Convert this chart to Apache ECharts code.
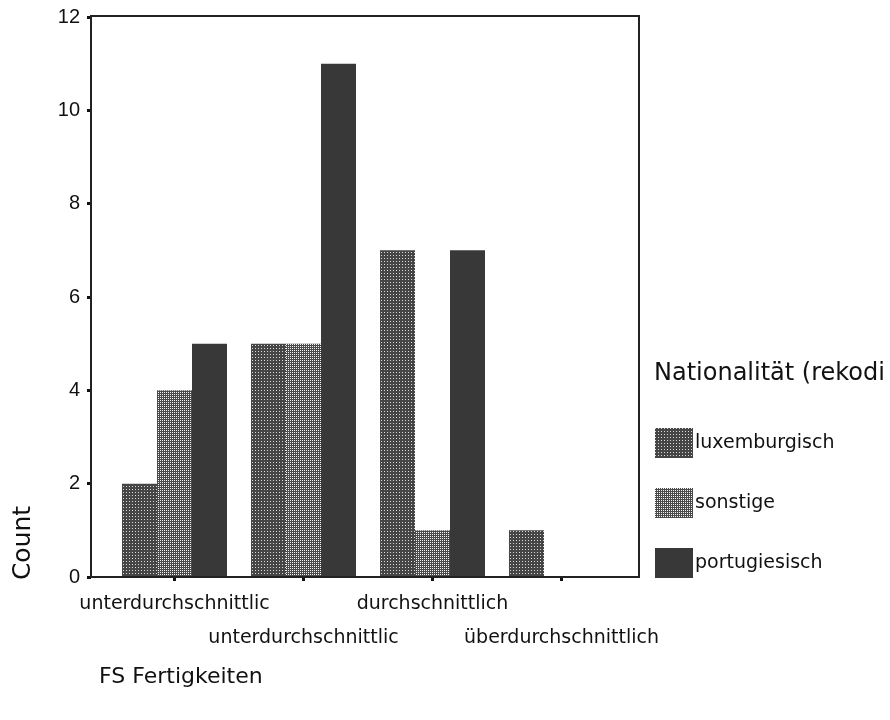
<!DOCTYPE html>
<html>
<head>
<meta charset="utf-8">
<script src="https://cdn.jsdelivr.net/npm/echarts@6/dist/echarts.min.js"></script>
<style>
  html, body { margin: 0; padding: 0; background: #fff; }
  #main { width: 890px; height: 720px; }
</style>
</head>
<body>
<div id="main"></div>
<script>
// Kategorien (FS Fertigkeiten)
var categories = ['unterdurchschnittlic', 'unterdurchschnittlic', 'durchschnittlich', 'überdurchschnittlich'];
// Nationalität (rekodiert)
var seriesNames = ['luxemburgisch', 'sonstige', 'portugiesisch'];
var luxemburgisch = [2, 5, 7, 1];
var sonstige = [4, 5, 1, 0];
var portugiesisch = [5, 11, 7, 0];
// y-Achse
var yMin = 0, yMax = 12, yStep = 2;

var chart = echarts.init(document.getElementById('main'), null, { renderer: 'canvas' });

var option = {
  backgroundColor: '#fff',
  animation: false,
  title: {
    text: 'Nationalität (rekodi',
    left: 654,
    top: 362,
    padding: 0,
    textStyle: { fontFamily: 'DejaVu Sans', fontSize: 24, fontWeight: 'normal', color: '#111' }
  },
  legend: {
    orient: 'vertical',
    left: 655,
    top: 428,
    padding: 0,
    itemWidth: 38,
    itemHeight: 30,
    itemGap: 30,
    icon: 'rect',
    data: seriesNames,
    textStyle: { fontFamily: 'DejaVu Sans', fontSize: 19, color: '#111', padding: [0, 0, 0, -3] }
  },
  grid: {
    left: 110,
    right: 264,
    top: 17,
    bottom: 143
  },
  xAxis: {
    type: 'category',
    data: categories,
    axisLine: { show: false },
    axisTick: { show: true, alignWithLabel: true, length: 4, lineStyle: { color: '#111', width: 3 } },
    axisLabel: {
      interval: 0,
      margin: 10,
      fontFamily: 'DejaVu Sans',
      fontSize: 19,
      color: '#111',
      lineHeight: 34,
      formatter: function (value, index) {
        // versetzte Beschriftung wie im Original
        return index % 2 ? '\n' + value : value;
      }
    },
    splitLine: { show: false }
  },
  yAxis: {
    type: 'value',
    min: yMin,
    max: yMax,
    interval: yStep,
    offset: 19,
    axisLine: { show: false },
    axisTick: { show: true, length: 4, lineStyle: { color: '#111', width: 3 } },
    axisLabel: { margin: 11, fontFamily: 'Liberation Sans', fontSize: 20, color: '#111' },
    splitLine: { show: false }
  },
  graphic: [
    {
      type: 'rect',
      shape: { x: 91, y: 16, width: 548, height: 561 },
      style: { fill: 'none', stroke: '#222', lineWidth: 2 },
      silent: true,
      z: 10
    },
    {
      type: 'text',
      x: 23,
      y: 543,
      rotation: Math.PI / 2,
      style: { text: 'Count', fontFamily: 'DejaVu Sans', fontSize: 25, fill: '#111', align: 'center', verticalAlign: 'middle' }
    },
    {
      type: 'text',
      left: 99,
      top: 666,
      style: { text: 'FS Fertigkeiten', fontFamily: 'DejaVu Sans', fontSize: 22, fill: '#111' }
    }
  ],
  series: [
    {
      name: seriesNames[0],
      type: 'bar',
      barWidth: 35,
      barGap: '0%',
      data: luxemburgisch,
      itemStyle: {
        color: '#454545',
        decal: { symbol: 'rect', symbolSize: 1, dashArrayX: [1, 2], dashArrayY: [1, 2], color: 'rgba(255,255,255,0.8)' }
      }
    },
    {
      name: seriesNames[1],
      type: 'bar',
      barWidth: 35,
      barGap: '0%',
      data: sonstige,
      itemStyle: {
        color: '#4a4a4a',
        decal: { symbol: 'rect', symbolSize: 1, dashArrayX: [1, 1], dashArrayY: [1, 1], color: 'rgba(255,255,255,0.95)' }
      }
    },
    {
      name: seriesNames[2],
      type: 'bar',
      barWidth: 35,
      barGap: '0%',
      data: portugiesisch,
      itemStyle: { color: '#383838' }
    }
  ]
};

chart.setOption(option);
</script>
</body>
</html>
